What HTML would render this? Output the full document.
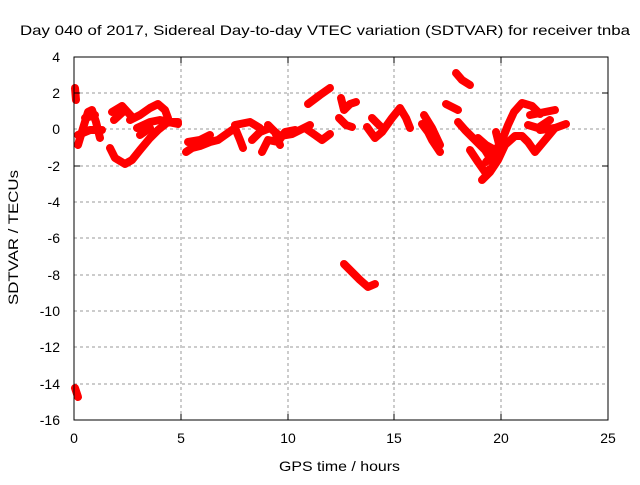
<!DOCTYPE html>
<html><head><style>
body{margin:0;background:#fff;}
svg text{font-family:"Liberation Sans",sans-serif;font-size:14px;fill:#000;}
</style></head><body>
<svg width="640" height="480" xmlns="http://www.w3.org/2000/svg">
<rect width="640" height="480" fill="#fff"/>
<g stroke="#999" stroke-width="1" stroke-dasharray="3,3">
<line x1="181" y1="57" x2="181" y2="420"/><line x1="288" y1="57" x2="288" y2="420"/><line x1="394" y1="57" x2="394" y2="420"/><line x1="501" y1="57" x2="501" y2="420"/>
<line x1="74" y1="93" x2="608" y2="93"/><line x1="74" y1="129" x2="608" y2="129"/><line x1="74" y1="166" x2="608" y2="166"/><line x1="74" y1="202" x2="608" y2="202"/><line x1="74" y1="238" x2="608" y2="238"/><line x1="74" y1="275" x2="608" y2="275"/><line x1="74" y1="311" x2="608" y2="311"/><line x1="74" y1="347" x2="608" y2="347"/><line x1="74" y1="384" x2="608" y2="384"/>
</g>
<g fill="none" stroke="#f00" stroke-width="8" stroke-linejoin="round" stroke-linecap="round">
<polyline points="75,88 76,100"/>
<polyline points="78,145 84,125 88,112 92,110 96,122 100,138"/>
<polyline points="78,135 90,130 102,130"/>
<polyline points="85,118 95,115"/>
<polyline points="110,148 115,158 125,164 132,160 140,150 150,138 158,130 168,122 178,124"/>
<polyline points="112,112 122,106 132,117"/>
<polyline points="114,120 125,110"/>
<polyline points="130,120 140,115 150,108 158,104 165,110 168,118"/>
<polyline points="137,128 150,122 160,120 170,122 178,122"/>
<polyline points="140,135 150,128"/>
<polyline points="186,152 192,148 200,146 210,142 218,140 225,135 235,128 240,140 243,148"/>
<polyline points="188,142 200,140 210,135"/>
<polyline points="235,125 250,122 260,128"/>
<polyline points="252,140 260,132 270,128 280,136 292,134 300,130 310,125"/>
<polyline points="262,152 268,140 278,142 285,132 295,130"/>
<polyline points="268,125 275,132 280,145"/>
<polyline points="305,128 315,135 322,140 330,134"/>
<polyline points="308,104 320,95 330,88"/>
<polyline points="341,98 344,110 350,104 356,102"/>
<polyline points="339,118 346,125 352,127"/>
<polyline points="367,127 375,138 382,132 392,118 400,108 406,118 410,128"/>
<polyline points="372,118 380,126"/>
<polyline points="422,124 428,132 432,140 440,152"/>
<polyline points="424,115 432,128 440,145"/>
<polyline points="446,104 458,110"/>
<polyline points="456,73 462,80 470,85"/>
<polyline points="458,122 465,130 475,140 485,150 490,158"/>
<polyline points="470,150 478,162 485,172 492,168 500,148 496,132"/>
<polyline points="478,138 486,145 495,150"/>
<polyline points="486,162 495,152 503,138 508,125 514,112 522,103 532,106 540,114"/>
<polyline points="482,180 490,172 498,160 505,145 515,136 522,136 528,142 535,152 545,140 555,128"/>
<polyline points="528,125 538,128 550,120"/>
<polyline points="530,115 545,112 555,110"/>
<polyline points="540,130 555,128 566,124"/>
<polyline points="344,264 352,272 360,280 368,287 375,284"/>
<polyline points="75,388 78,397"/>
</g>
<rect x="74" y="57" width="534" height="363" fill="none" stroke="#000" stroke-width="1"/>
<g stroke="#000">
<line x1="181" y1="420" x2="181" y2="414"/><line x1="288" y1="420" x2="288" y2="414"/><line x1="394" y1="420" x2="394" y2="414"/><line x1="501" y1="420" x2="501" y2="414"/>
<line x1="181" y1="57" x2="181" y2="63"/><line x1="288" y1="57" x2="288" y2="63"/><line x1="394" y1="57" x2="394" y2="63"/><line x1="501" y1="57" x2="501" y2="63"/>
<line x1="74" y1="93" x2="80" y2="93"/><line x1="74" y1="166" x2="80" y2="166"/><line x1="602" y1="93" x2="608" y2="93"/><line x1="602" y1="166" x2="608" y2="166"/>
</g>
<g text-anchor="end">
<text x="60" y="62">4</text><text x="60" y="98">2</text><text x="60" y="134">0</text><text x="60" y="171">-2</text><text x="60" y="207">-4</text><text x="60" y="243">-6</text><text x="60" y="280">-8</text><text x="60" y="316">-10</text><text x="60" y="352">-12</text><text x="60" y="389">-14</text><text x="60" y="425">-16</text>
</g>
<g text-anchor="middle">
<text x="74" y="443">0</text><text x="181" y="443">5</text><text x="288" y="443">10</text><text x="394" y="443">15</text><text x="501" y="443">20</text><text x="608" y="443">25</text>
</g>
<text x="279" y="471" textLength="121" lengthAdjust="spacingAndGlyphs">GPS time / hours</text>
<text x="20" y="35" textLength="610" lengthAdjust="spacingAndGlyphs">Day 040 of 2017, Sidereal Day-to-day VTEC variation (SDTVAR) for receiver tnba</text>
<text transform="translate(18,305) rotate(-90)" textLength="135" lengthAdjust="spacingAndGlyphs">SDTVAR / TECUs</text>
</svg>
</body></html>
